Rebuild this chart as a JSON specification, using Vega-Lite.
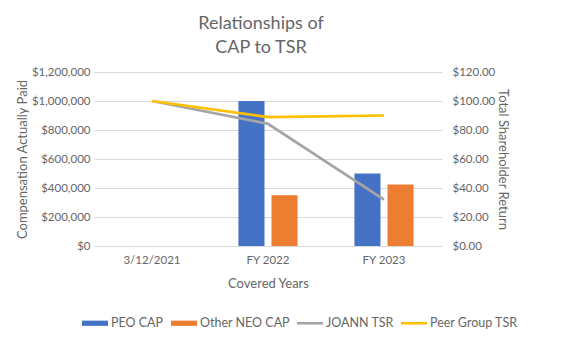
{
  "$schema": "https://vega.github.io/schema/vega-lite/v6.json",
  "width": 348,
  "height": 174,
  "autosize": {"type": "none"},
  "padding": {"left": 94, "top": 72, "right": 135, "bottom": 91},
  "background": "white",
  "config": {
    "font": "Lato",
    "view": {"stroke": null},
    "axis": {"labelColor": "#666666", "titleColor": "#666666", "labelFontSize": 11.5, "titleFontSize": 13, "titleFontWeight": "normal", "domain": false, "ticks": false, "labelOverlap": false}
  },
  "title": {
    "text": ["Relationships of", "CAP to TSR"],
    "fontSize": 18,
    "fontWeight": "normal",
    "color": "#666666",
    "lineHeight": 24,
    "anchor": "middle",
    "dx": -7,
    "offset": 9
  },
  "data": {
    "values": [
      {"year": "3/12/2021", "series": "JOANN TSR", "value": 100},
      {"year": "FY 2022", "series": "JOANN TSR", "value": 84.3},
      {"year": "FY 2023", "series": "JOANN TSR", "value": 32},
      {"year": "3/12/2021", "series": "Peer Group TSR", "value": 100},
      {"year": "FY 2022", "series": "Peer Group TSR", "value": 88.9},
      {"year": "FY 2023", "series": "Peer Group TSR", "value": 90},
      {"year": "FY 2022", "series": "PEO CAP", "value": 1000000},
      {"year": "FY 2023", "series": "PEO CAP", "value": 500000},
      {"year": "FY 2022", "series": "Other NEO CAP", "value": 350000},
      {"year": "FY 2023", "series": "Other NEO CAP", "value": 425000}
    ]
  },
  "encoding": {
    "x": {
      "field": "year",
      "type": "nominal",
      "sort": ["3/12/2021", "FY 2022", "FY 2023"],
      "scale": {"paddingInner": 0.49, "paddingOuter": 0.245},
      "axis": {"labelAngle": 0, "labelPadding": 8, "title": "Covered Years", "titleY": 37, "titleBaseline": "middle", "grid": false}
    },
    "color": {
      "field": "series",
      "type": "nominal",
      "scale": {
        "domain": ["PEO CAP", "Other NEO CAP", "JOANN TSR", "Peer Group TSR"],
        "range": ["#4472C4", "#ED7D31", "#A5A5A5", "#FFC000"]
      },
      "legend": {
        "title": null,
        "orient": "none",
        "direction": "horizontal",
        "legendX": -12,
        "legendY": 238,
        "symbolType": "M-1,-0.2L1,-0.2L1,0.2L-1,0.2Z",
        "symbolSize": 676,
        "symbolStrokeWidth": 0,
        "labelFontSize": 12.5,
        "labelColor": "#666666",
        "labelOffset": 3,
        "columnPadding": 7,
        "encode": {
          "symbols": {
            "update": {
              "shape": {"signal": "datum.value == 'PEO CAP' || datum.value == 'Other NEO CAP' ? 'M-1,-0.2L1,-0.2L1,0.2L-1,0.2Z' : 'M-1,-0.1L1,-0.1L1,0.1L-1,0.1Z'"},
              "fill": {"scale": "color", "field": "value"},
              "strokeWidth": {"value": 0},
              "opacity": {"value": 1}
            }
          }
        }
      }
    }
  },
  "layer": [
    {
      "transform": [{"filter": {"field": "series", "oneOf": ["PEO CAP", "Other NEO CAP"]}}],
      "mark": {"type": "bar"},
      "encoding": {
        "xOffset": {"field": "series", "type": "nominal", "sort": ["PEO CAP", "Other NEO CAP"], "scale": {"paddingInner": 0.212, "paddingOuter": 0}},
        "y": {
          "field": "value",
          "type": "quantitative",
          "scale": {"domain": [0, 1200000]},
          "axis": {
            "values": [0, 200000, 400000, 600000, 800000, 1000000, 1200000],
            "format": "$,.0f",
            "labelPadding": 4,
            "gridColor": "#D9D9D9",
            "title": "Compensation Actually Paid",
            "titleX": -72,
            "titleBaseline": "middle"
          }
        }
      }
    },
    {
      "encoding": {
        "y": {
          "field": "value",
          "type": "quantitative",
          "scale": {"domain": [0, 120]},
          "axis": {
            "orient": "right",
            "values": [0, 20, 40, 60, 80, 100, 120],
            "format": "$.2f",
            "labelPadding": 10,
            "labelOverlap": false,
            "grid": false,
            "title": "Total Shareholder Return",
            "titleAngle": 90,
            "titleX": 60,
            "titleBaseline": "middle"
          }
        }
      },
      "layer": [
        {
          "transform": [{"filter": {"field": "series", "equal": "JOANN TSR"}}],
          "mark": {"type": "line", "strokeWidth": 2.75}
        },
        {
          "transform": [{"filter": {"field": "series", "equal": "Peer Group TSR"}}],
          "mark": {"type": "line", "strokeWidth": 2.75}
        }
      ]
    }
  ],
  "resolve": {"scale": {"y": "independent"}}
}
